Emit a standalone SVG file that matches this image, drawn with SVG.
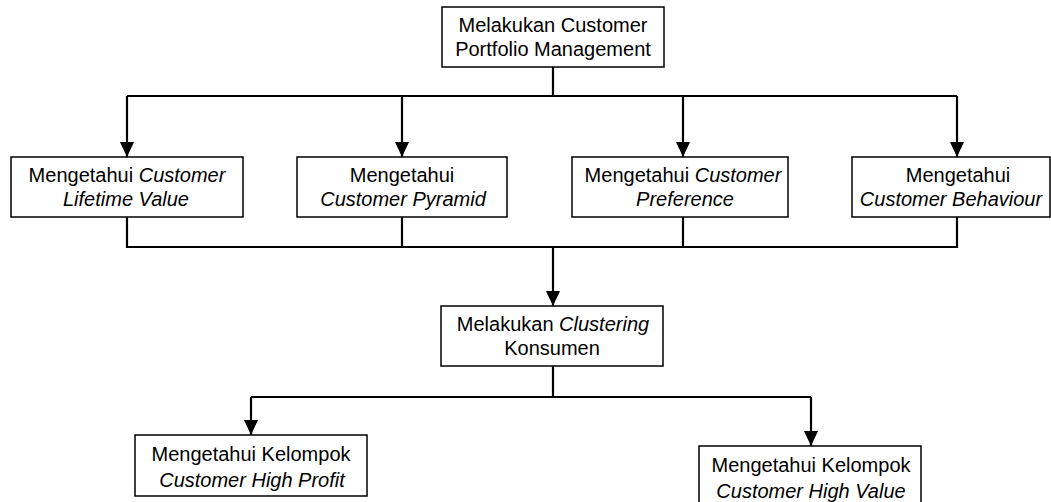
<svg xmlns="http://www.w3.org/2000/svg" width="1051" height="502" viewBox="0 0 1051 502">
<style>
.box{fill:#fff;stroke:#000;stroke-width:1.5}
.t{font-family:"Liberation Sans",Arial,sans-serif;font-size:20px;fill:#000;text-anchor:middle}
.i{font-style:italic}
.ln{fill:none;stroke:#000;stroke-width:2.2}
</style>
<defs>
<marker id="ah" viewBox="0 0 15 14" refX="15" refY="7" markerWidth="15" markerHeight="14" markerUnits="userSpaceOnUse" orient="auto">
<path d="M0,0 L15,7 L0,14 Z" fill="#000"/>
</marker>
</defs>
<rect width="1051" height="502" fill="#fff"/>
<g id="connectors">
<path class="ln" d="M553,67 V96 M127,96 H957"/>
<path class="ln" d="M127,96 V157" marker-end="url(#ah)"/>
<path class="ln" d="M402,96 V157" marker-end="url(#ah)"/>
<path class="ln" d="M683,96 V157" marker-end="url(#ah)"/>
<path class="ln" d="M957,96 V157" marker-end="url(#ah)"/>
<path class="ln" d="M127,217 V247 H957 V217 M402,217 V247 M683,217 V247"/>
<path class="ln" d="M553,247 V306" marker-end="url(#ah)"/>
<path class="ln" d="M553,366 V397 M251,397 H811"/>
<path class="ln" d="M251,397 V435" marker-end="url(#ah)"/>
<path class="ln" d="M811,397 V446" marker-end="url(#ah)"/>
</g>
<g id="n-portfolio">
<rect class="box" x="442" y="7" width="222" height="60"/>
<text class="t" x="553" y="32">Melakukan Customer</text>
<text class="t" x="553" y="56">Portfolio Management</text>
</g>
<g id="n-clv">
<rect class="box" x="11" y="157" width="232" height="60"/>
<text class="t" x="127" y="182">Mengetahui <tspan class="i">Customer</tspan></text>
<text class="t i" x="126" y="206">Lifetime Value</text>
</g>
<g id="n-pyramid">
<rect class="box" x="297" y="157" width="210" height="60"/>
<text class="t" x="402" y="182">Mengetahui</text>
<text class="t i" x="403" y="206">Customer Pyramid</text>
</g>
<g id="n-preference">
<rect class="box" x="572" y="157" width="216" height="60"/>
<text class="t" x="683" y="182">Mengetahui <tspan class="i">Customer</tspan></text>
<text class="t i" x="685" y="206">Preference</text>
</g>
<g id="n-behaviour">
<rect class="box" x="852" y="157" width="198" height="60"/>
<text class="t" x="958" y="182">Mengetahui</text>
<text class="t i" x="951" y="206">Customer Behaviour</text>
</g>
<g id="n-clustering">
<rect class="box" x="441" y="306" width="222" height="60"/>
<text class="t" x="553" y="331">Melakukan <tspan class="i">Clustering</tspan></text>
<text class="t" x="552" y="355">Konsumen</text>
</g>
<g id="n-highprofit">
<rect class="box" x="135" y="435" width="232" height="61"/>
<text class="t" x="251" y="461">Mengetahui Kelompok</text>
<text class="t i" x="252" y="487">Customer High Profit</text>
</g>
<g id="n-highvalue">
<rect class="box" x="699" y="446" width="222" height="60"/>
<text class="t" x="811" y="472">Mengetahui Kelompok</text>
<text class="t i" x="811" y="498">Customer High Value</text>
</g>
</svg>
